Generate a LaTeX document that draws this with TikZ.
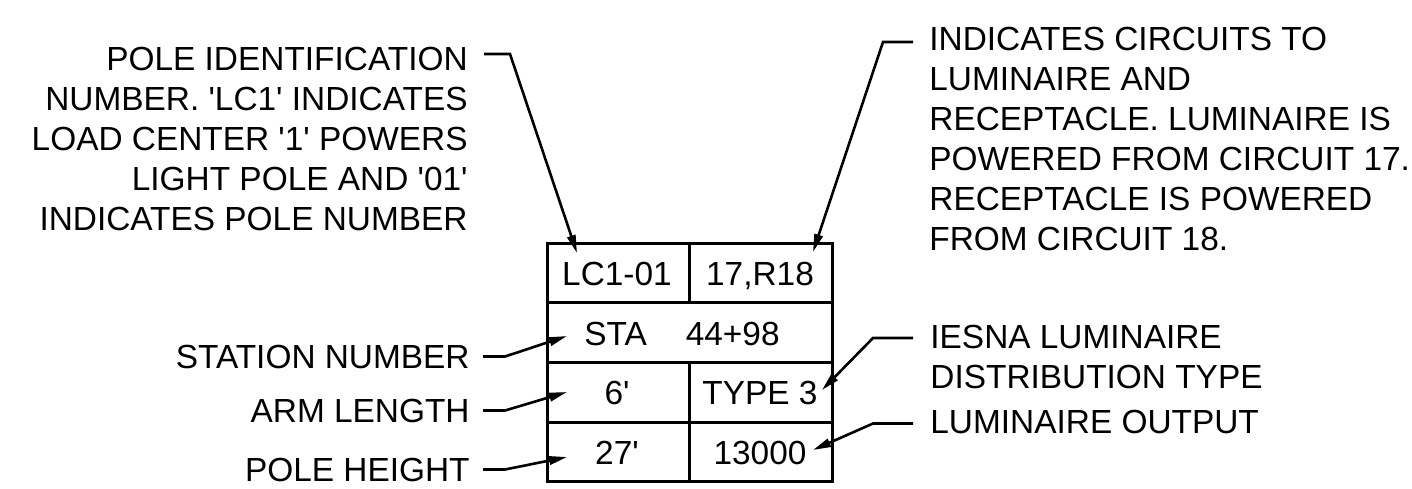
\documentclass[tikz,border=0pt]{standalone}
\usepackage{fontspec}
\setmainfont{Liberation Sans}
\usetikzlibrary{arrows.meta}
\newcommand\apos{\textquotesingle}
\tikzset{
 grid/.style={line width=1.5pt},
 leader/.style={line width=1.3pt,-{Triangle[length=9pt,width=4.2pt]}},
 lbl/.style={inner sep=0pt,font=\fontsize{16.7}{20}\selectfont},
}

\begin{document}
\begin{tikzpicture}[x=0.5pt,y=-0.5pt]
\useasboundingbox (0,0) rectangle (1412,488);
\draw[grid] (547,243) rectangle (832,481)
  (547,302) -- (832,302) (547,362) -- (832,362) (547,422) -- (832,422)
  (689,243) -- (689,302) (689,362) -- (689,481);
\node[lbl,anchor=base] (cid) at (617,285) {LC1-01};
\node[lbl,anchor=base] (ccirc) at (760,285) {17,R18};
\node[lbl,anchor=base] (csta) at (682,345) {STA\hspace{19.5pt}44+98};
\node[lbl,anchor=base] (carm) at (617,404) {6\apos};
\node[lbl,anchor=base] (ctype) at (760,404) {TYPE 3};
\node[lbl,anchor=base] (chgt) at (617,464) {27\apos};
\node[lbl,anchor=base] (cout) at (760,464) {13000};
\node[lbl,anchor=north east,align=right] (lid) at (468,47)
  {POLE IDENTIFICATION\\NUMBER. \apos LC1\apos\ INDICATES\\LOAD CENTER \apos1\apos\ POWERS\\LIGHT POLE AND \apos01\apos\\INDICATES POLE NUMBER};
\node[lbl,anchor=north west,align=left] (lcirc) at (929,27)
  {INDICATES CIRCUITS TO\\LUMINAIRE AND\\RECEPTACLE. LUMINAIRE IS\\POWERED FROM CIRCUIT 17.\\RECEPTACLE IS POWERED\\FROM CIRCUIT 18.};
\node[lbl,anchor=north west,align=left] (ltype) at (930,325) {IESNA LUMINAIRE\\DISTRIBUTION TYPE};
\node[lbl,anchor=base west] (lout) at (930,433) {LUMINAIRE OUTPUT};
\coordinate (tid) at (577,253);
\coordinate (tcirc) at (813,252);
\coordinate (ttype) at (822,390);
\coordinate (tout) at (813,450);
\draw[leader] ([xshift=8pt,yshift=-3.5pt]lid.north east) -- ++(26,0) -- (tid);
\draw[leader] ([xshift=-8pt,yshift=-7.5pt]lcirc.north west) -- ++(-30,0) -- (tcirc);
\draw[leader] ([xshift=-8.5pt,yshift=-6.5pt]ltype.north west) -- ++(-40,0) -- (ttype);
\draw[leader] ([xshift=-8.5pt,yshift=-1pt]lout.west) -- ++(-40,0) -- (tout);
\foreach \n/\txt/\y/\ty in {sta/STATION NUMBER/368/336,arm/ARM LENGTH/422/392,hgt/POLE HEIGHT/481/457} {
  \node[lbl,anchor=base east] (l\n) at (470,\y) {\txt};
  \coordinate (t\n) at (567,\ty);
  \draw[leader] ([xshift=6.5pt]l\n.east) -- ++(22,0) -- (t\n);
}
\end{tikzpicture}
\end{document}
